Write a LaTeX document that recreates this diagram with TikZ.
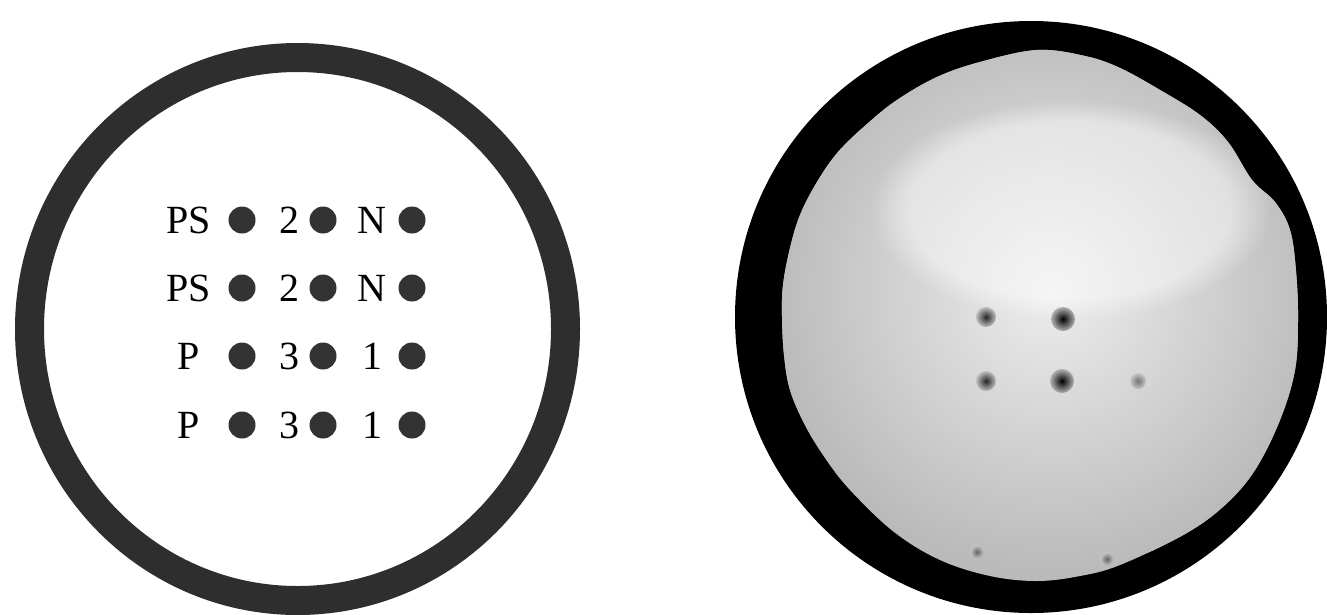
\documentclass[tikz,border=0pt]{standalone}
\usepackage{fontspec}
\setmainfont{Liberation Serif}
\usetikzlibrary{fadings}
\begin{document}
\begin{tikzpicture}[x=1pt,y=-1pt,
  lbl/.style={anchor=base,font=\fontsize{40}{40}\selectfont,inner sep=0pt},
  spot/.style={circle,fill=black!80,minimum size=27pt,inner sep=0pt},
  ring/.style={draw=black!82,line width=29pt},
  blot/.style={circle,inner sep=0pt,shading=radial}]
\useasboundingbox (0,0) rectangle (1327,614);
% ---------- left disc ----------
\draw[ring] (297.5,329) ellipse [x radius=268, y radius=271.5];
\foreach \r/\a/\b/\c [count=\i] in {220/PS/2/N,288/PS/2/N,356/P/3/1,425/P/3/1}{
  \node[lbl] (la\i) at (189,\r+13) {\a};
  \node[spot] (da\i) at (242,\r) {};
  \node[lbl] (lb\i) at (289,\r+13) {\b};
  \node[spot] (db\i) at (323,\r) {};
  \node[lbl] (lc\i) at (372,\r+13) {\c};
  \node[spot] (dc\i) at (412,\r) {};
}
% ---------- right disc ----------
\fill[black] (1031,317) circle[radius=296];
\begin{scope}
\clip plot[smooth cycle, tension=0.6] coordinates{(1037,50) (980,62) (937,77) (897,100) (867,124) (838,152) (817,182) (800,215) (790,248)
  (783,285) (782,317) (784,355) (790,390) (805,425) (825,458) (850,490) (894,532) (940,560) (990,576) (1037,581) (1080,576) (1120,565)
  (1185,534) (1225,505) (1255,470) (1280,420) (1295,370) (1298,320) (1296,271) (1290,230) (1275,202) (1252,180)
  (1228,142) (1200,115) (1160,90) (1120,68) (1085,56)};
\fill[black!27] (700,0) rectangle (1327,614);
\shade[inner color=black!7, outer color=black!27] (1050,290) circle[radius=280];
\fill[white,opacity=0.45,path fading=circle with fuzzy edge 20 percent] (1070,210) ellipse[x radius=200, y radius=110];
\end{scope}
\node[blot,inner color=black!85,outer color=black!25,minimum size=20pt] (s1) at (986,317) {};
\node[blot,inner color=black,outer color=black!30,minimum size=24pt] (s2) at (1063,319) {};
\node[blot,inner color=black!85,outer color=black!25,minimum size=20pt] (s3) at (986,381) {};
\node[blot,inner color=black,outer color=black!30,minimum size=24pt] (s4) at (1062,381) {};
\node[blot,inner color=black!55,outer color=black!22,minimum size=16pt] (s5) at (1138,381) {};
\node[blot,inner color=black!60,outer color=black!22,minimum size=14pt] (s6) at (977,552) {};
\node[blot,inner color=black!60,outer color=black!22,minimum size=14pt] (s7) at (1107,559) {};
\end{tikzpicture}
\end{document}
